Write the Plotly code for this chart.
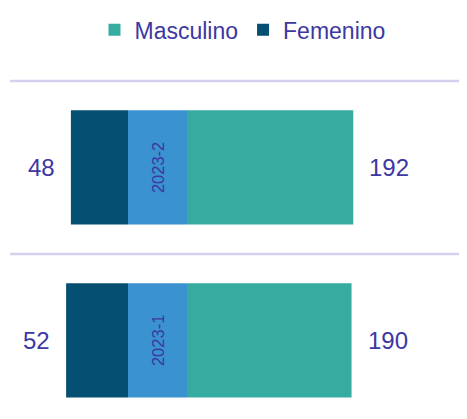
import plotly.graph_objects as go

periodos = ["2023-1", "2023-2"]
femenino = [52, 48]
masculino = [190, 192]
medio = [1, 1]

C_FEM = "#054f73"
C_MAS = "#36aca1"
C_MID = "#3a92d0"
C_TXT = "#3d37a3"
FONT = "Liberation Sans, Arial, sans-serif"

# page body has an 8px margin; figure is drawn in that shifted frame
W, H = 459, 411
fig = go.Figure()

fig.add_trace(go.Bar(
    name="Masculino", y=periodos, x=masculino, orientation="h",
    marker=dict(color=C_MAS, line=dict(width=0)), width=0.66,
    xaxis="x3", yaxis="y", hoverinfo="x"))
fig.add_trace(go.Bar(
    name="Femenino", y=periodos, x=femenino, orientation="h",
    marker=dict(color=C_FEM, line=dict(width=0)), width=0.66,
    xaxis="x", yaxis="y", hoverinfo="x"))
fig.add_trace(go.Bar(
    name="Periodo", y=periodos, x=medio, orientation="h",
    marker=dict(color=C_MID, line=dict(width=0)), width=0.66,
    text=periodos, textposition="inside", insidetextanchor="middle",
    textangle=-90, textfont=dict(family=FONT, size=16.5, color=C_TXT),
    xaxis="x2", yaxis="y", showlegend=False, hoverinfo="y"))

for p, v in zip(periodos, femenino):
    fig.add_annotation(x=v, y=p, xref="x", yref="y", text=str(v),
                       showarrow=False, xanchor="right", xshift=-14,
                       font=dict(family=FONT, size=24, color=C_TXT))
for p, v in zip(periodos, masculino):
    fig.add_annotation(x=v, y=p, xref="x3", yref="y", text=str(v),
                       showarrow=False, xanchor="left", xshift=14,
                       font=dict(family=FONT, size=24, color=C_TXT))

for yv in [0.5, 1.5]:
    fig.add_shape(type="line", xref="paper", yref="y", x0=2 / W, x1=1,
                  y0=yv, y1=yv, line=dict(color="#d5d0ee", width=2.5))

ax_common = dict(showgrid=False, zeroline=False, showticklabels=False,
                 showline=False, fixedrange=True)
TOP = 64
PH = H - TOP
fig.update_layout(
    width=W, height=H,
    margin=dict(l=0, r=0, t=TOP, b=0),
    paper_bgcolor="white", plot_bgcolor="white",
    font=dict(family=FONT, color=C_TXT),
    xaxis=dict(domain=[0, 120 / W], range=[120 / 1.19, 0], **ax_common),
    xaxis2=dict(domain=[120 / W, 179 / W], range=[0, 1], **ax_common),
    xaxis3=dict(domain=[179 / W, 1], range=[0, 280 / 0.866], **ax_common),
    yaxis=dict(type="category", categoryarray=periodos, categoryorder="array",
               range=[1.5 - 344 / 176, 1.5 + 3 / 176], showgrid=False,
               zeroline=False, showticklabels=False, showline=False,
               fixedrange=True),
    legend=dict(orientation="h", x=0.5 + 5 / W, xanchor="center",
                y=1 + (TOP - 15) / PH, yanchor="middle",
                font=dict(family=FONT, size=23, color=C_TXT),
                traceorder="normal", itemwidth=30),
    showlegend=True,
)

fig.write_html("out.html")
